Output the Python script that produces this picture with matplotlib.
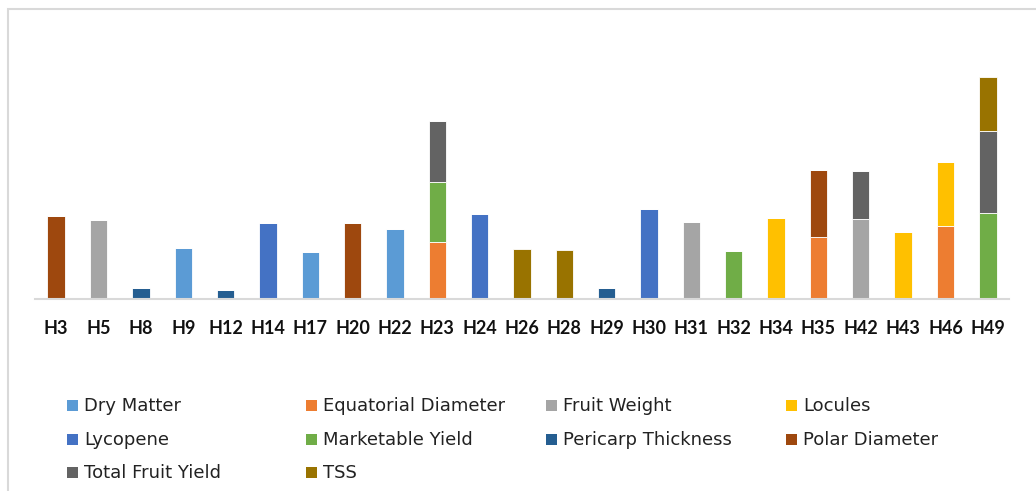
import numpy as np
import matplotlib
matplotlib.use("Agg")
import matplotlib.pyplot as plt
from matplotlib.patches import Rectangle

plt.rcParams["font.family"] = ["Lato", "DejaVu Sans"]

# ── Data ────────────────────────────────────────────────────────────────
hybrids = ["H3", "H5", "H8", "H9", "H12", "H14", "H17", "H20", "H22", "H23",
           "H24", "H26", "H28", "H29", "H30", "H31", "H32", "H34", "H35",
           "H42", "H43", "H46", "H49"]

dry_matter          = [0, 0, 0, 51, 0, 0, 47, 0, 70, 0, 0, 0, 0, 0, 0, 0, 0, 0, 0, 0, 0, 0, 0]
equatorial_diameter = [0, 0, 0, 0, 0, 0, 0, 0, 0, 57, 0, 0, 0, 0, 0, 0, 0, 0, 62, 0, 0, 72.6, 0]
fruit_weight        = [0, 79, 0, 0, 0, 0, 0, 0, 0, 0, 0, 0, 0, 0, 0, 77, 0, 0, 0, 80, 0, 0, 0]
locules             = [0, 0, 0, 0, 0, 0, 0, 0, 0, 0, 0, 0, 0, 0, 0, 0, 0, 81, 0, 0, 67.3, 64.4, 0]
lycopene            = [0, 0, 0, 0, 0, 76, 0, 0, 0, 0, 84.6, 0, 0, 0, 90, 0, 0, 0, 0, 0, 0, 0, 0]
marketable_yield    = [0, 0, 0, 0, 0, 0, 0, 0, 0, 60, 0, 0, 0, 0, 0, 0, 47.6, 0, 0, 0, 0, 0, 86.3]
pericarp_thickness  = [0, 0, 11, 0, 9, 0, 0, 0, 0, 0, 0, 0, 0, 11, 0, 0, 0, 0, 0, 0, 0, 0, 0]
polar_diameter      = [83, 0, 0, 0, 0, 0, 0, 76, 0, 0, 0, 0, 0, 0, 0, 0, 0, 0, 67.3, 0, 0, 0, 0]
total_fruit_yield   = [0, 0, 0, 0, 0, 0, 0, 0, 0, 61, 0, 0, 0, 0, 0, 0, 0, 0, 0, 48.3, 0, 0, 81.7]
tss                 = [0, 0, 0, 0, 0, 0, 0, 0, 0, 0, 0, 50, 48.6, 0, 0, 0, 0, 0, 0, 0, 0, 0, 54]

series = [
    ("Dry Matter", dry_matter, "#5B9BD5"),
    ("Equatorial Diameter", equatorial_diameter, "#ED7D31"),
    ("Fruit Weight", fruit_weight, "#A5A5A5"),
    ("Locules", locules, "#FFC000"),
    ("Lycopene", lycopene, "#4472C4"),
    ("Marketable Yield", marketable_yield, "#70AD47"),
    ("Pericarp Thickness", pericarp_thickness, "#255E91"),
    ("Polar Diameter", polar_diameter, "#9E480E"),
    ("Total Fruit Yield", total_fruit_yield, "#636363"),
    ("TSS", tss, "#997300"),
]

# ── Figure ──────────────────────────────────────────────────────────────
W, H = 1036, 491
fig = plt.figure(figsize=(W / 100, H / 100), dpi=100)

# outer chart frame (runs off the right and bottom edges)
fig.patches.append(Rectangle((8 / W, -0.1), 1.2, 1 - 9 / H + 0.1,
                             transform=fig.transFigure, fill=False,
                             edgecolor="#D9D9D9", linewidth=1.5))

ax = fig.add_axes([35 / W, 1 - 299 / H, (1009 - 35) / W, (299 - 25) / H])

x = np.arange(len(hybrids))
bottom = np.zeros(len(hybrids))
for name, vals, color in series:
    vals = np.array(vals, dtype=float)
    ax.bar(x, vals, width=0.41, bottom=bottom, color=color,
           edgecolor="white", linewidth=0.6, label=name, zorder=2)
    bottom += vals

ax.set_xlim(-0.5, len(hybrids) - 0.5)
ax.set_ylim(0, 274)
ax.set_yticks([])
ax.set_xticks(x)
ax.set_xticklabels(hybrids, fontsize=13, fontweight="bold", color="#111111")
ax.tick_params(axis="x", length=0, pad=15)
for side in ["left", "right", "top"]:
    ax.spines[side].set_visible(False)
ax.spines["bottom"].set_color("#D9D9D9")
ax.spines["bottom"].set_linewidth(1.5)
ax.spines["bottom"].set_zorder(3)

# ── Legend, laid out row by row in four equal columns ───────────────────
col_x = [67, 306, 546, 786]
row_y = [406, 440, 473]
for i, (name, _, color) in enumerate(series):
    cx = col_x[i % 4]
    cy = row_y[i // 4]
    fig.patches.append(Rectangle((cx / W, 1 - (cy + 5) / H), 11 / W, 11 / H,
                                 transform=fig.transFigure, facecolor=color,
                                 edgecolor="none"))
    fig.text((cx + 17) / W, 1 - cy / H, name, fontsize=13,
             family="DejaVu Sans", color="#222222", va="center", ha="left")

fig.savefig("out.png", dpi=100, facecolor="white")
